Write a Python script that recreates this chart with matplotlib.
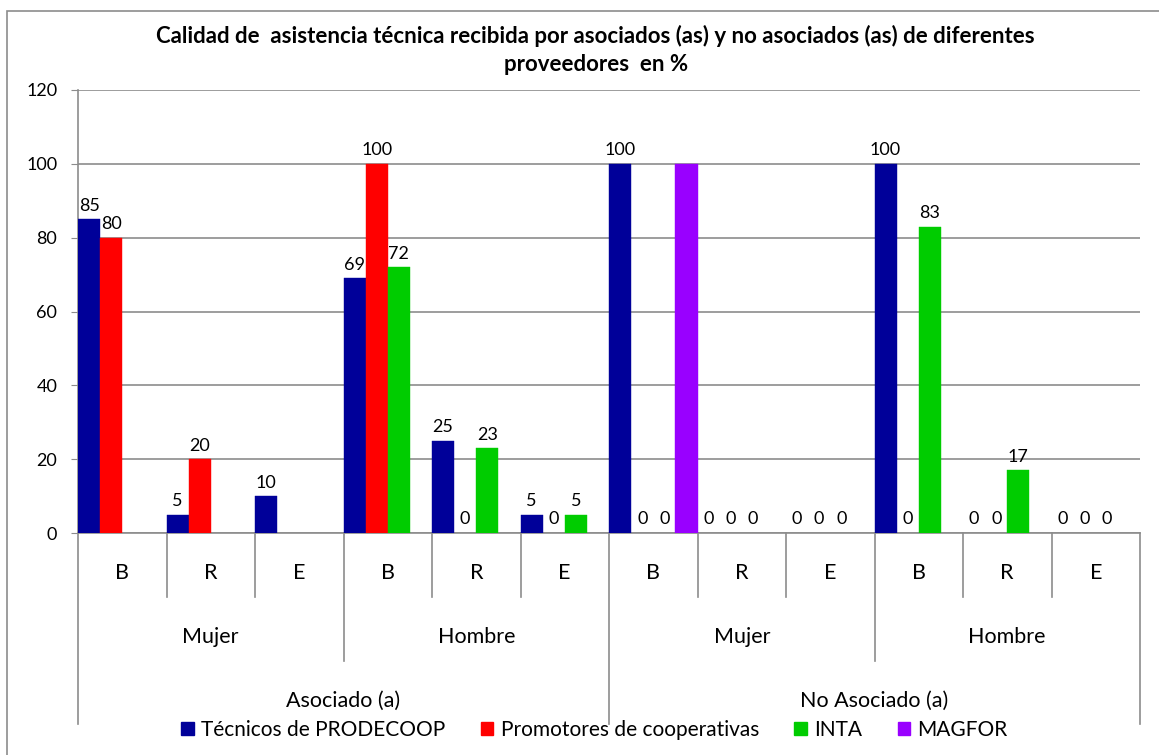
import numpy as np
import matplotlib
matplotlib.use("Agg")
import matplotlib.pyplot as plt
from matplotlib.patches import Rectangle, Patch
from matplotlib.lines import Line2D

plt.rcParams['font.family'] = ['Lato', 'DejaVu Sans']

nan = np.nan
# 12 categories: (Asociado / No Asociado) x (Mujer / Hombre) x (B, R, E)
calidad = ["B", "R", "E"] * 4
sexo = ["Mujer", "Hombre", "Mujer", "Hombre"]
grupo = ["Asociado (a)", "No Asociado (a)"]

series = ["Técnicos de PRODECOOP", "Promotores de cooperativas", "INTA", "MAGFOR"]
tecnicos = [85, 5, 10, 69, 25, 5, 100, 0, 0, 100, 0, 0]
promotores = [80, 20, nan, 100, 0, 0, 0, 0, 0, 0, 0, 0]
inta = [nan, nan, nan, 72, 23, 5, 0, 0, 0, 83, 17, 0]
magfor = [nan, nan, nan, nan, nan, nan, 100, nan, nan, nan, nan, nan]
colores = ["#000099", "#FF0000", "#00CC00", "#9900FF"]
con_etiqueta = [True, True, True, False]  # MAGFOR bar has no data label

W, H = 1159, 755
fig = plt.figure(figsize=(W / 100, H / 100), dpi=100)
# axes in pixel terms: left 78, right 1140, top 90, bottom 533
ax = fig.add_axes([78 / W, 1 - 533 / H, (1140 - 78) / W, (533 - 90) / H])

# outer frame (only top and left edges fall inside the image)
fig.patches.append(Rectangle((7 / W, -10 / H), (W + 10) / W, (744 + 10) / H,
                             transform=fig.transFigure, fill=False,
                             edgecolor="#8c8c8c", linewidth=1.2))

n = len(calidad)
bw = 0.25
for i, (vals, col) in enumerate(zip([tecnicos, promotores, inta, magfor], colores)):
    for g, v in enumerate(vals):
        if np.isnan(v):
            continue
        x = g + (i + 0.5) * bw
        if v > 0:
            ax.bar(x, v, width=bw, color=col, edgecolor=col, linewidth=0.3, zorder=3)
        if con_etiqueta[i]:
            ax.annotate(f"{v:.0f}", (x, v), xytext=(0, 4), textcoords="offset points",
                        ha="center", va="bottom", fontsize=13, color="black", zorder=4)

ax.set_xlim(0, n)
ax.set_ylim(0, 120)
ax.set_yticks(np.arange(0, 121, 20))
ax.tick_params(axis="y", labelsize=13, length=5, color="#8c8c8c", pad=10)
ax.set_xticks([])
ax.yaxis.grid(True, color="#8c8c8c", linewidth=1.2, zorder=0)
ax.set_axisbelow(True)
for s in ["top", "right"]:
    ax.spines[s].set_visible(False)
ax.spines["left"].set_color("#8c8c8c")
ax.spines["bottom"].set_color("#8c8c8c")
ax.spines["left"].set_linewidth(1.2)
ax.spines["bottom"].set_linewidth(1.2)

# multi-level category axis
ph = 533 - 90
def ya(ypix):
    return (533 - ypix) / ph

trans = ax.get_xaxis_transform()
for b in range(n + 1):
    if b % 6 == 0:
        y1 = ya(724)
    elif b % 3 == 0:
        y1 = ya(661)
    else:
        y1 = ya(597)
    ax.add_line(Line2D([b, b], [0, y1], transform=trans, color="#8c8c8c",
                       linewidth=1.2, clip_on=False))

for g, lab in enumerate(calidad):
    ax.text(g + 0.5, ya(573), lab, transform=trans, ha="center", va="center", fontsize=15.5)
for k, lab in enumerate(sexo):
    ax.text(3 * k + 1.5, ya(637), lab, transform=trans, ha="center", va="center", fontsize=15.5)
for k, lab in enumerate(grupo):
    ax.text(6 * k + 3, ya(701), lab, transform=trans, ha="center", va="center", fontsize=15.5)

fig.text(0.514, 1 - 50 / H,
         "Calidad de  asistencia técnica recibida por asociados (as) y no asociados (as) de diferentes\n"
         "proveedores  en %",
         ha="center", va="center", fontsize=16, fontweight="bold", linespacing=1.4)

handles = [Patch(facecolor=c, edgecolor=c) for c in colores]
fig.legend(handles, series, loc="center", bbox_to_anchor=(0.513, 1 - 730 / H), ncol=4,
           frameon=False, fontsize=15, handlelength=0.6, handleheight=0.6,
           handletextpad=0.35, columnspacing=1.7, borderpad=0)

fig.savefig("out.png", dpi=100)
